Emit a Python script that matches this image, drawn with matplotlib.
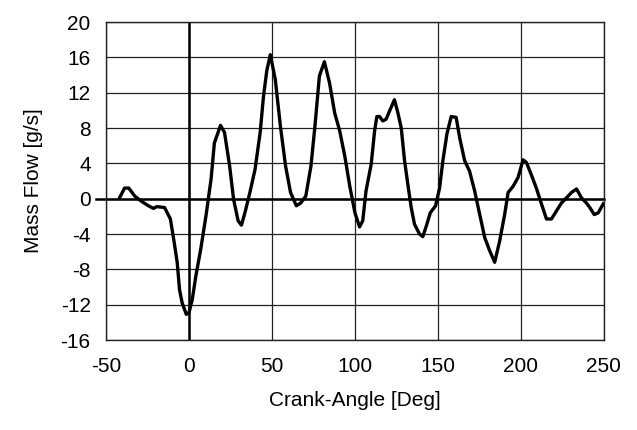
import numpy as np
import matplotlib.pyplot as plt

# %% traced data: crank angle [deg] and mass flow [g/s]
crank_angle = [-41.8, -38.8, -36.3, -32.7, -28.6, -24.5, -21.4, -19.4, -14.7, -11.2,
               -9.2, -7.1, -5.7, -4.1, -1.6, 0.0, 2.0, 4.1, 7.1, 10.2,
               13.3, 15.3, 19.0, 21.4, 24.5, 26.9, 29.6, 31.6, 33.7, 36.7,
               39.8, 42.9, 44.9, 46.9, 49.0, 52.0, 55.1, 58.2, 61.2, 64.7,
               67.3, 70.4, 73.5, 75.9, 78.6, 81.6, 84.7, 87.8, 90.8, 93.9,
               96.9, 100.0, 102.8, 104.7, 106.7, 109.8, 111.8, 113.2, 114.8, 116.8,
               118.8, 120.8, 123.8, 125.9, 127.9, 129.9, 131.9, 133.9, 135.9, 138.9,
               140.9, 143.0, 145.4, 148.6, 151.0, 153.0, 155.4, 158.0, 161.0, 163.1,
               166.1, 169.1, 172.1, 175.2, 178.2, 181.2, 184.2, 187.2, 190.2, 192.3,
               195.3, 198.3, 201.3, 203.3, 206.3, 209.3, 212.4, 215.4, 218.4, 221.4,
               224.4, 227.5, 230.5, 233.5, 236.5, 239.5, 241.5, 244.2, 246.6, 249.6]
mass_flow = [0.1, 1.2, 1.2, 0.3, -0.3, -0.8, -1.1, -0.9, -1.0, -2.3,
             -4.6, -7.2, -10.3, -11.8, -13.1, -12.9, -11.4, -8.8, -5.7, -2.0,
             2.2, 6.3, 8.3, 7.5, 3.7, -0.1, -2.5, -3.0, -1.6, 0.7,
             3.3, 7.5, 11.6, 14.5, 16.3, 13.5, 8.2, 3.7, 0.7, -0.8,
             -0.5, 0.3, 3.7, 8.2, 13.9, 15.5, 13.1, 9.7, 7.7, 4.8,
             1.4, -1.6, -3.2, -2.5, 0.9, 3.9, 7.6, 9.3, 9.3, 8.8,
             9.0, 9.9, 11.2, 9.7, 8.0, 4.3, 1.6, -1.0, -2.9, -4.0,
             -4.3, -3.1, -1.6, -0.8, 1.2, 4.3, 7.3, 9.3, 9.2, 6.9,
             4.3, 3.1, 0.9, -1.8, -4.4, -5.9, -7.2, -4.8, -1.8, 0.7,
             1.4, 2.4, 4.4, 4.1, 2.7, 1.2, -0.6, -2.3, -2.3, -1.4,
             -0.5, 0.1, 0.7, 1.1, 0.1, -0.5, -1.0, -1.8, -1.6, -0.6]

x_ticks = [-50, 0, 50, 100, 150, 200, 250]
y_ticks = [-16, -12, -8, -4, 0, 4, 8, 12, 16, 20]

# %% make plot
plt.rcParams['font.family'] = ['Liberation Sans', 'DejaVu Sans']
plt.rcParams['axes.unicode_minus'] = False
fig = plt.figure(figsize=(6.37, 4.30), dpi=100)
ax = fig.add_axes([0.1664, 0.2093, 0.7816, 0.7395])

# grid
for xv in x_ticks:
    ax.axvline(xv, color='#222222', lw=0.9, zorder=1)
for yv in y_ticks:
    ax.axhline(yv, color='#222222', lw=0.9, zorder=1)
# heavier zero lines
ax.axvline(0, color='black', lw=1.8, zorder=2)
ax.plot([-56, 250], [0, 0], color='black', lw=1.8, zorder=2, clip_on=False)

ax.plot(crank_angle, mass_flow, color='black', lw=2.4, zorder=3)

ax.set_xlim(-50, 250)
ax.set_ylim(-16, 20)
ax.set_xticks(x_ticks)
ax.set_yticks(y_ticks)
ax.tick_params(length=0, labelsize=15, colors='black')
ax.tick_params(axis='x', pad=12)
ax.tick_params(axis='y', pad=11)
for s in ax.spines.values():
    s.set_linewidth(1.0)
    s.set_color('#222222')

ax.set_xlabel('Crank-Angle [Deg]', fontsize=15, labelpad=11)
ax.set_ylabel('Mass Flow [g/s]', fontsize=15, labelpad=13)

plt.savefig('out.png', dpi=100)
